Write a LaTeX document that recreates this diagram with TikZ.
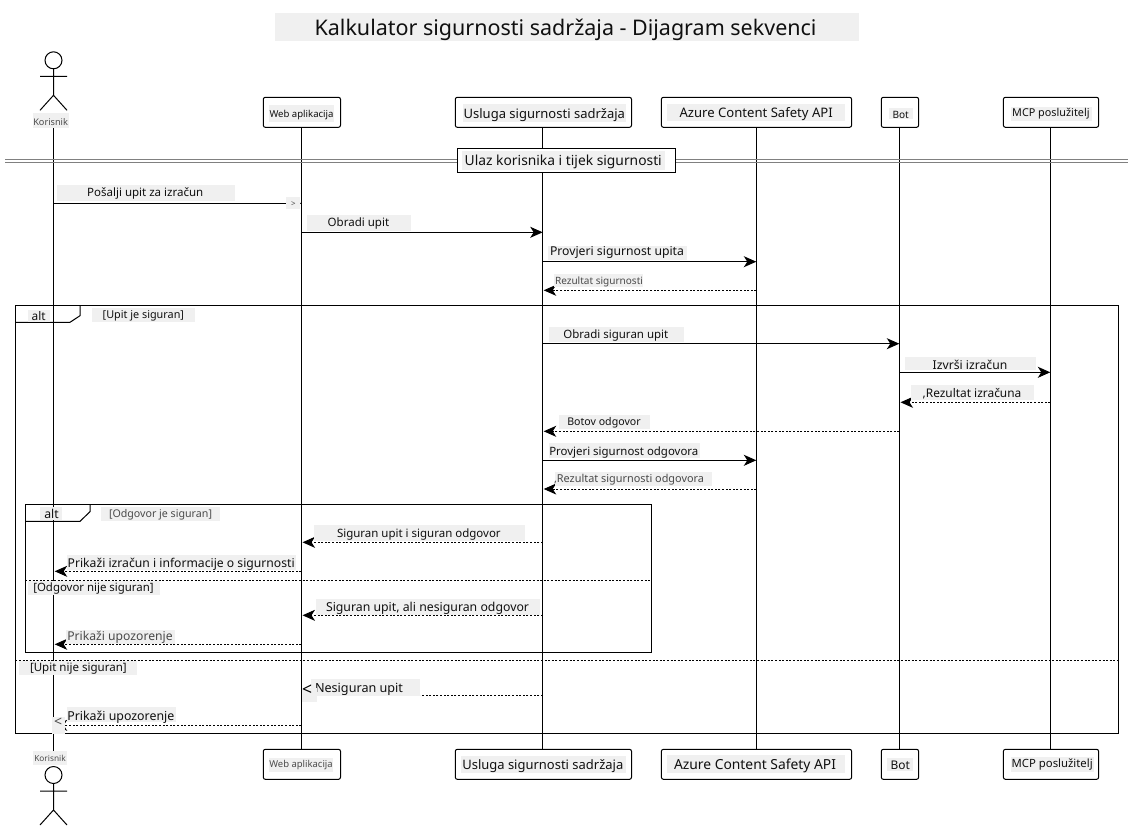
\documentclass[tikz,border=0pt]{standalone}
\usepackage{graphicx}
\usepackage{fontspec}
\setmainfont{Noto Sans}
\usetikzlibrary{arrows.meta}
\definecolor{patch}{HTML}{F0F0F0}
\definecolor{ink}{HTML}{101010}
\definecolor{soft}{HTML}{4A4A4A}
\definecolor{rule}{HTML}{808080}
\tikzset{
  x=1pt,y=-1pt,
  thinline/.style={line width=1pt,black},
  lifeline/.style={thinline},
  box/.style={thinline,fill=white,rounded corners=2pt},
  frame/.style={thinline},
  tip/.style={-{Stealth[length=12.5pt,width=11pt,inset=3.5pt]}},
  call/.style={thinline,tip},
  reply/.style={thinline,tip,dash pattern=on 2pt off 1.6pt},
  sep/.style={thinline,dash pattern=on 2pt off 1.6pt},
  patchfill/.style={fill=patch,draw=none},
  label/.style={inner sep=0pt,outer sep=0pt,anchor=base west},
}
% name, patch corner, patch corner, text x0/x1/baseline, colour, text
\newcommand{\lab}[6]{\fill[patchfill] (#2) rectangle (#3);\fittedB{#1}#4\relax{#5}{#6}}
\def\fittedB#1#2/#3/#4\relax#5#6{%
  \pgfmathsetlengthmacro{\lw}{#3-#2}%
  \node[label,text=#5] (#1) at (#2,#4) {\resizebox{\lw}{!}{#6}};}
\newcommand{\msg}[5]{\coordinate (#1s) at (#3 |- 0,#5);\coordinate (#1e) at (#4 |- 0,#5);\draw[#2] (#1s) -- (#1e);}
\newcommand{\actor}[3]{% name, x, head y ; bits relative to head
  \draw[thinline] (#2,#3) circle (8.5pt);
  \coordinate (#1neck) at (#2,#3+8.5);
  \coordinate (#1hip) at (#2,#3+35);
  \coordinate (#1armL) at (#2-13.5,#3+16);
  \coordinate (#1armR) at (#2+13.5,#3+16);
  \coordinate (#1legL) at (#2-13.5,#3+50);
  \coordinate (#1legR) at (#2+13.5,#3+50);
  \draw[thinline] (#1neck) -- (#1hip) (#1armL) -- (#1armR) (#1legL) -- (#1hip) -- (#1legR);}
\begin{document}
\begin{tikzpicture}
\useasboundingbox[fill=white] (0,0) rectangle (1134,830);
% lifeline coordinates
\coordinate (ua) at (53.5,128);   \coordinate (uaB) at (53.5,751);
\coordinate (wa) at (301.3,127.3);\coordinate (waB) at (301.3,749.3);
\coordinate (us) at (542.7,127.3);\coordinate (usB) at (542.7,749.3);
\coordinate (az) at (756.3,127.3);\coordinate (azB) at (756.3,749.3);
\coordinate (bo) at (899.3,127.3);\coordinate (boB) at (899.3,749.3);
\coordinate (mc) at (1050.3,127.3);\coordinate (mcB) at (1050.3,749.3);
\foreach \a/\b in {ua/uaB,wa/waB,us/usB,az/azB,bo/boB,mc/mcB}{\draw[lifeline] (\a) -- (\b);}
% reply end points stop short of the lifeline
\coordinate (usR) at (543.7,0);\coordinate (waR) at (302.5,0);\coordinate (uaR) at (54.7,0);\coordinate (boR) at (900.5,0);
% divider
\coordinate (dl) at (5.4,0);\coordinate (dr) at (1128,0);
\draw[rule,line width=1pt] (dl |- 0,159.3) -- (dr |- 0,159.3) (dl |- 0,162.7) -- (dr |- 0,162.7);
\draw[thinline,fill=white] (457.5,148.3) rectangle (675.5,172.3);
% frames
\draw[frame] (15.3,305.3) rectangle (1118.7,733.3);
\draw[frame] (80,305.3) -- (80,315.7) -- (70,322.3) -- (15.3,322.3);
\draw[frame] (25.3,504.3) rectangle (651.3,652.3);
\draw[frame] (90,504.3) -- (90,511.7) -- (80,521.3) -- (25.3,521.3);
\draw[sep] (25.3,580.3) -- (651.3,580.3);
\draw[sep] (15.3,660.3) -- (1118.7,660.3);
% messages
\msg{m1}{call}{ua}{wa}{203.3}
\msg{m2}{call}{wa}{us}{232.3}
\msg{m3}{call}{us}{az}{261.7}
\msg{m4}{reply}{az}{usR}{290.3}
\msg{m5}{call}{us}{bo}{343.7}
\msg{m6}{call}{bo}{mc}{372.3}
\msg{m7}{reply}{mc}{boR}{402.3}
\msg{m8}{reply}{bo}{usR}{431.3}
\msg{m9}{call}{us}{az}{460.3}
\msg{m10}{reply}{az}{usR}{489}
\msg{m11}{reply}{us}{waR}{542.3}
\msg{m12}{reply}{wa}{uaR}{571.3}
\msg{m13}{reply}{us}{waR}{615.3}
\msg{m14}{reply}{wa}{uaR}{644.3}
\msg{m15}{reply}{us}{waR}{695.3}
\msg{m16}{reply}{wa}{uaR}{725.3}
% participant boxes
\foreach \n/\xa/\xb in {w/263.3/340.5,s/455.3/631.5,a/661.4/851.6,b/881.3/918.6,m/1003.4/1098.6}{
  \draw[box] (\xa,97.3) rectangle (\xb,127.3);
  \draw[box] (\xa,749.3) rectangle (\xb,779.3);
}
% actors
\actor{top}{53.5}{60.3}
\actor{bot}{53.5}{775}
% labels
\lab{title}{275,13}{859,41}{314.6/816.5/35}{ink}{Kalkulator sigurnosti sadržaja - Dijagram sekvenci}
\lab{uaT}{33,113.3}{68.7,128}{33.3/68/125.7}{soft}{Korisnik}
\lab{uaBt}{33.3,751}{66.7,765}{34.3/65.7/761.7}{soft}{Korisnik}
\lab{waT}{269,105.3}{333.8,122}{269.5/333.5/117.3}{ink}{Web aplikacija}
\lab{waBt}{269,758.3}{333.3,771.7}{269.3/332.7/767.7}{soft}{Web aplikacija}
\lab{usT}{463,104.3}{626,122}{463.6/625/118.3}{ink}{Usluga sigurnosti sadržaja}
\lab{usBt}{461,756}{626,773.3}{462.3/623.3/769.3}{ink}{Usluga sigurnosti sadržaja}
\lab{azT}{667,104}{845,120.7}{679.5/832.8/117.3}{ink}{Azure Content Safety API}
\lab{azBt}{667,755}{845,773.3}{674/836/769.3}{ink}{Azure Content Safety API}
\lab{boT}{889,107.7}{913,119.3}{892.5/908.8/118}{ink}{Bot}
\lab{boBt}{886.7,757.7}{913.3,770.7}{890.7/910/769}{ink}{Bot}
\lab{mcT}{1011,106.7}{1092,120.7}{1012.2/1089.6/116.7}{ink}{MCP poslužitelj}
\lab{mcBt}{1011,756.7}{1094,771.7}{1011.7/1092.7/767.7}{ink}{MCP poslužitelj}
\lab{divT}{462,151}{665,170}{464.7/661.8/165}{ink}{Ulaz korisnika i tijek sigurnosti}
\lab{t1}{57,185}{235,200.7}{87.2/203.3/196.7}{ink}{Pošalji upit za izračun}
\lab{g1}{286,196.7}{300,209}{291/295.5/206.5}{soft}{>}
\lab{t2}{307,215}{411,230.7}{327.7/389.2/226.7}{ink}{Obradi upit}
\lab{t3}{548.3,245.7}{686.7,260}{550/684/255.7}{ink}{Provjeri sigurnost upita}
\lab{t4}{554,274.3}{643.3,286.7}{555/643/284}{soft}{Rezultat sigurnosti}
\lab{altA}{28.3,310}{50,321.7}{31.7/45.7/320}{ink}{alt}
\lab{gA}{92,307.7}{195,321.7}{102.7/184/318.3}{ink}{[Upit je siguran]}
\lab{t5}{549,327.3}{684,341.7}{563.3/668.3/338.3}{ink}{Obradi siguran upit}
\lab{t6}{905,356.7}{1036,370}{932.7/1007.3/369.3}{ink}{Izvrši izračun}
\lab{t7}{911,385}{1034,400}{922.7/1021.3/397.3}{ink}{,Rezultat izračuna}
\lab{t8}{559,415}{650,429}{567.3/640.7/425}{ink}{Botov odgovor}
\lab{t9}{549,443.3}{700,458.3}{549.3/698.3/455}{ink}{Provjeri sigurnost odgovora}
\lab{t10}{555,471.7}{711.7,486}{554/704/482.7}{soft}{,Rezultat sigurnosti odgovora}
\lab{altB}{40,507}{62,520}{44.3/58.7/518.3}{ink}{alt}
\lab{gB}{101,507.3}{220,520.7}{109/212/517.7}{soft}{[Odgovor je siguran]}
\lab{t11}{314,525}{525,541}{337/500.7/537.3}{ink}{Siguran upit i siguran odgovor}
\lab{t12}{66.7,555}{296,570.3}{67.7/294.7/567.3}{ink}{Prikaži izračun i informacije o sigurnosti}
\lab{gC}{28.3,580.7}{160,595}{33.3/153.7/591}{ink}{[Odgovor nije siguran]}
\lab{t13}{316,599}{540,614.7}{326/529/611}{ink}{Siguran upit, ali nesiguran odgovor}
\lab{t14}{65.7,630}{175,644}{67.3/172.7/640.7}{soft}{Prikaži upozorenje}
\lab{gD}{19,660.6}{137,675}{30/126.7/671}{ink}{[Upit nije siguran]}
\lab{t15}{311,679}{420,695.7}{315/403/692}{ink}{Nesiguran upit}
\lab{t15b}{301.7,688}{316.7,701.7}{302/312/695}{black}{<}
\lab{t16b}{51.7,716.7}{65,734.3}{54/62/726}{soft}{<}
\lab{t16}{66.7,706.7}{175.7,722.3}{67.3/174.3/720}{ink}{Prikaži upozorenje}
\end{tikzpicture}
\end{document}
